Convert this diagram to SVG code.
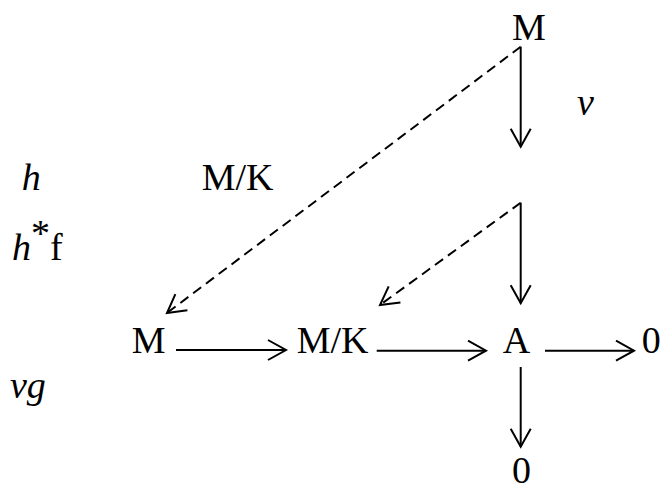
<svg xmlns="http://www.w3.org/2000/svg" width="661" height="490" viewBox="0 0 661 490">
<style>
.t{font-family:"Liberation Serif","Times New Roman",serif;font-size:38px;fill:#000}
.i{font-family:"Liberation Serif","Times New Roman",serif;font-style:italic;font-size:38px;fill:#000}
.ln{stroke:#000;stroke-width:2;fill:none;marker-end:url(#ah)}
.ds{stroke-dasharray:10 6}
</style>
<defs>
<marker id="ah" markerUnits="userSpaceOnUse" viewBox="-22 -12 24 24" markerWidth="24" markerHeight="24" refX="0" refY="0" orient="auto" overflow="visible">
<path d="M-18,-10 L0,0 L-18,10" fill="none" stroke="#000" stroke-width="2" stroke-dasharray="none"/>
</marker>
</defs>
<rect width="661" height="490" fill="#fff"/>
<g id="connectors">
<line class="ln" x1="520.7" y1="46.7" x2="520.7" y2="146.7"/>
<line class="ln" x1="520.7" y1="202.7" x2="520.7" y2="303.3"/>
<line class="ln" x1="520.7" y1="367" x2="520.7" y2="446.7"/>
<line class="ln" x1="176" y1="350" x2="286" y2="350"/>
<line class="ln" x1="376.7" y1="350.7" x2="486" y2="350.7"/>
<line class="ln" x1="545" y1="350.7" x2="634" y2="350.7"/>
<line class="ln ds" x1="520.7" y1="46.7" x2="167" y2="313"/>
<line class="ln ds" x1="520.7" y1="202.7" x2="380" y2="305"/>
</g>
<g id="n-M-top"><text class="t" x="512" y="39.5">M</text></g>
<g id="n-MK-top"><text class="t" x="201.7" y="190">M/K</text></g>
<g id="n-M"><text class="t" x="131.7" y="353">M</text></g>
<g id="n-MK"><text class="t" x="296.7" y="353">M/K</text></g>
<g id="n-A"><text class="t" x="502.7" y="353">A</text></g>
<g id="n-0-right"><text class="t" x="641.7" y="353">0</text></g>
<g id="n-0-bottom"><text class="t" x="512" y="483">0</text></g>
<g id="labels">
<text class="i" x="577" y="115">v</text>
<text class="i" x="21.7" y="190">h</text>
<text x="12" y="260"><tspan class="i">h</tspan><tspan class="t" font-size="20" dy="-14">*</tspan><tspan class="t" dy="14">f</tspan></text>
<text class="i" x="10" y="398">vg</text>
</g>
</svg>
